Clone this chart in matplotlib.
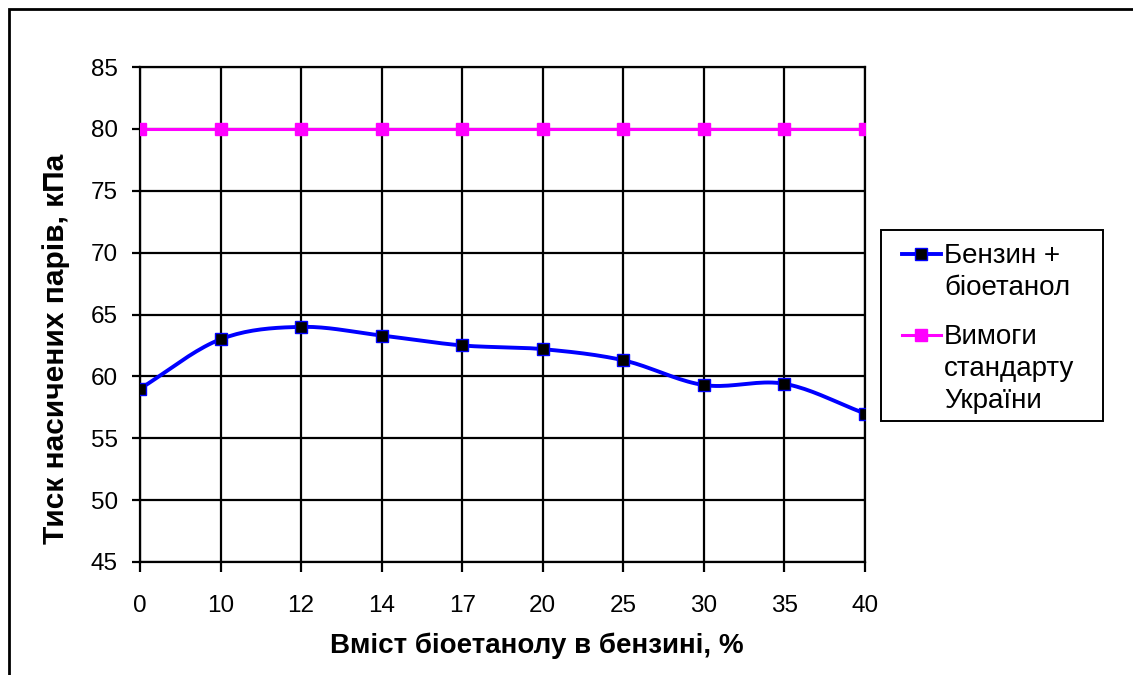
import numpy as np
import matplotlib
matplotlib.use('Agg')
import matplotlib.pyplot as plt
from matplotlib.patches import Rectangle
from matplotlib.lines import Line2D

plt.rcParams['font.family'] = ['Liberation Sans', 'DejaVu Sans']

# data
ethanol_pct = ['0', '10', '12', '14', '17', '20', '25', '30', '35', '40']
vapour_pressure = [59.0, 63.0, 64.0, 63.3, 62.5, 62.2, 61.3, 59.3, 59.4, 57.0]
standard_limit = [80, 80, 80, 80, 80, 80, 80, 80, 80, 80]
y_ticks = [45, 50, 55, 60, 65, 70, 75, 80, 85]
legend_labels = ['Бензин +\nбіоетанол', 'Вимоги\nстандарту\nУкраїни']


def catmull_rom(x, y, steps=20):
    # Excel-like smoothed line through the points
    x = np.asarray(x, dtype=float)
    y = np.asarray(y, dtype=float)
    px = np.concatenate([[2 * x[0] - x[1]], x, [2 * x[-1] - x[-2]]])
    py = np.concatenate([[2 * y[0] - y[1]], y, [2 * y[-1] - y[-2]]])
    out_x, out_y = [], []
    t = np.linspace(0, 1, steps, endpoint=False)
    for i in range(1, len(px) - 2):
        for arr, out in ((px, out_x), (py, out_y)):
            p0, p1, p2, p3 = arr[i - 1], arr[i], arr[i + 1], arr[i + 2]
            out.extend(0.5 * (2 * p1 + (-p0 + p2) * t
                              + (2 * p0 - 5 * p1 + 4 * p2 - p3) * t ** 2
                              + (-p0 + 3 * p1 - 3 * p2 + p3) * t ** 3))
    out_x.append(x[-1])
    out_y.append(y[-1])
    return np.array(out_x), np.array(out_y)


W, H = 1133, 675
fig = plt.figure(figsize=(W / 100, H / 100), dpi=100)
ax = fig.add_axes([140 / W, 1 - 562 / H, 725 / W, 495 / H])

pos = np.arange(len(ethanol_pct))
sx, sy = catmull_rom(pos, vapour_pressure)

blue_style = dict(color='#0000ff', lw=2.8)
blue_marker = dict(marker='s', ms=8, mfc='black', mec='#0000ff', mew=1)
pink_style = dict(color='#ff00ff', lw=2.2, marker='s', ms=9,
                  mfc='#ff00ff', mec='#ff00ff')

ax.plot(pos, standard_limit, zorder=3, **pink_style)
ax.plot(sx, sy, zorder=4, **blue_style)
ax.plot(pos, vapour_pressure, ls='none', zorder=5, **blue_marker)

ax.set_xlim(0, len(ethanol_pct) - 1)
ax.set_ylim(45, 85)
ax.set_xticks(pos)
ax.set_xticklabels(ethanol_pct)
ax.set_yticks(y_ticks)
ax.grid(True, color='black', lw=1.6)
ax.set_axisbelow(True)
for s in ax.spines.values():
    s.set_color('black')
    s.set_linewidth(1.6)
ax.tick_params(axis='both', labelsize=17.5, color='black', width=1.6)
ax.tick_params(axis='x', length=7.5, pad=16)
ax.tick_params(axis='y', length=6, pad=10)

ax.set_xlabel('Вміст біоетанолу в бензині, %', fontsize=20, fontweight='bold')
ax.set_ylabel('Тиск насичених парів, кПа', fontsize=21.5, fontweight='bold')
ax.xaxis.set_label_coords((537 - 140) / 725, (562 - 633) / 495)
ax.yaxis.set_label_coords((70 - 140) / 725, (562 - 349) / 495)

# legend drawn by hand so the handle sits on the first text line
fig.patches.append(Rectangle((881 / W, 1 - 421 / H), 222 / W, 191 / H,
                             transform=fig.transFigure, fill=False,
                             edgecolor='black', lw=1.4))
entry_y = [254, 335]
handle_styles = [dict(**blue_style, **blue_marker), pink_style]
for label, py, st in zip(legend_labels, entry_y, handle_styles):
    st = dict(st)
    st['markevery'] = [1]
    fig.add_artist(Line2D([902 / W, 921 / W, 941 / W], [1 - py / H] * 3,
                          transform=fig.transFigure, **st))
    fig.text(944 / W, 1 - (py - 11) / H, label, fontsize=20, va='top',
             ha='left', linespacing=1.3)

# outer chart frame
fig.patches.append(Rectangle((9 / W, -0.1), 1.2, 1 - 9 / H + 0.1,
                             transform=fig.transFigure, fill=False,
                             edgecolor='black', lw=2))

fig.savefig('out.png', dpi=100)
